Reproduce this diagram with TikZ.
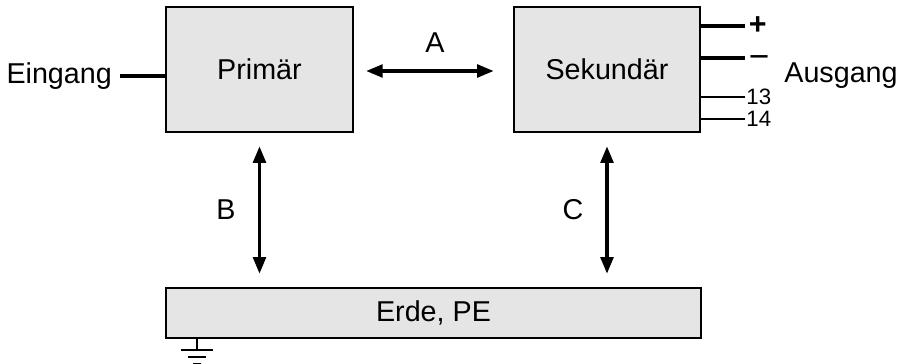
\documentclass[tikz,border=0pt]{standalone}
\usepackage{fontspec}
\setmainfont{Liberation Sans}
\usetikzlibrary{arrows.meta,positioning}

\begin{document}
\begin{tikzpicture}[
    x=0.03cm, y=-0.03cm,
    font=\fontsize{24.5}{28}\selectfont,
    box/.style={draw, line width=2.1pt, fill=black!10, minimum width=5.6cm, minimum height=3.75cm},
    arr/.style={{Triangle[length=0.5cm, width=0.38cm]}-{Triangle[length=0.5cm, width=0.38cm]}, line width=3pt},
    wire/.style={line width=3.2pt},
    thin wire/.style={line width=1.7pt},
    small/.style={font=\fontsize{19}{22}\selectfont}
  ]
    \useasboundingbox (0,0) rectangle (901,363);

    \node[box] (prim) at (259.5,69.5) {Primär};
    \node[box, minimum width=5.58cm] (sek) at (607,69.5) {Sekundär};
    \node[box, minimum width=16.05cm, minimum height=1.5cm] (erde) at (433.5,313) {Erde, PE};

    % input
    \node[anchor=east] (ein) at (116,76) {Eingang};
    \draw[wire] (ein.east) ++(3pt,0) coordinate (e0) -- (prim.west |- e0);

    % couplings
    \draw[arr, shorten <=0.36cm, shorten >=0.57cm] (prim.east |- 0,71) -- (sek.west |- 0,71);
    \node (a) at (435,43) {A};
    \draw[arr, shorten <=0.39cm, shorten >=0.39cm] (prim.south) -- (prim.south |- erde.north);
    \node (b) at (226,210) {B};
    \draw[arr, shorten <=0.39cm, shorten >=0.39cm] (sek.south) -- (sek.south |- erde.north);
    \node (c) at (573,210) {C};

    % outputs
    \coordinate (plus) at (745,26);
    \coordinate (minus) at (745,58);
    \coordinate (t13) at (745,97);
    \coordinate (t14) at (745,119);
    \draw[wire] (sek.east |- plus) -- (plus);
    \draw[wire] (sek.east |- minus) -- (minus);
    \draw[thin wire] (sek.east |- t13) -- (t13);
    \draw[thin wire] (sek.east |- t14) -- (t14);
    \node[anchor=west, inner sep=3pt, font=\fontsize{26}{28}\selectfont\bfseries] (lp) at (plus) {+};
    \node[anchor=base west, inner sep=3pt, font=\fontsize{30}{32}\selectfont] (lm) at ([yshift=-0.3cm]minus) {−};
    \node[anchor=west, inner sep=1pt, small] (l13) at (t13) {13};
    \node[anchor=west, inner sep=1pt, small] (l14) at (t14) {14};
    \node (aus) at (841,76) {Ausgang};

    % earth
    \coordinate (gnd) at (197,350);
    \draw[thin wire] (erde.south -| gnd) -- (gnd);
    \draw[thin wire] ([xshift=-0.48cm]gnd) -- ([xshift=0.48cm]gnd);
    \draw[thin wire] ([xshift=-0.28cm,yshift=-0.21cm]gnd) -- ([xshift=0.28cm,yshift=-0.21cm]gnd);
    \draw[thin wire] ([xshift=-0.12cm,yshift=-0.42cm]gnd) -- ([xshift=0.12cm,yshift=-0.42cm]gnd);
  \end{tikzpicture}
\end{document}
